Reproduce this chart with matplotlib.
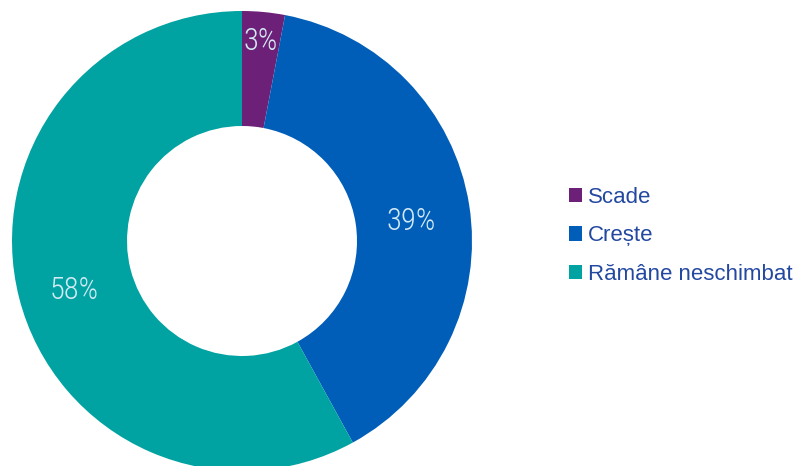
import matplotlib.pyplot as plt
import numpy as np

labels = ["Scade", "Crește", "Rămâne neschimbat"]
values = [3, 39, 58]
colors = ["#6d2077", "#005eb8", "#00a3a1"]

# label placement: radius (fraction of outer radius) and angular nudge in degrees
label_radius = [0.87, 0.74, 0.76]
label_nudge = [0.0, -2.3, 2.2]

fig = plt.figure(figsize=(7.97, 4.66), dpi=100)
ax = fig.add_axes([12 / 797, -5 / 466, 460 / 797, 460 / 466])

wedges, _ = ax.pie(values, colors=colors, startangle=90, counterclock=False,
                   radius=1, wedgeprops=dict(width=0.5, linewidth=0))
ax.set_xlim(-1, 1)
ax.set_ylim(-1, 1)
ax.set_aspect("equal")

total = sum(values)
start = 90.0
for v, r, d in zip(values, label_radius, label_nudge):
    mid = np.deg2rad(start - v / total * 360 / 2 + d)
    ax.text(r * np.cos(mid), r * np.sin(mid), f"{v}%", ha="center", va="center",
            fontsize=22, color="#d3eaf4", family=["Roboto Condensed", "Roboto"],
            fontweight="light")
    start -= v / total * 360

leg = fig.legend(wedges, labels, loc="center left", bbox_to_anchor=(0.689, 0.494),
                 frameon=False, handlelength=0.6, handleheight=0.6,
                 handletextpad=0.25, labelspacing=0.8, labelcolor="#2248a0",
                 prop=dict(family="Liberation Sans", size=16))
plt.savefig("out.png", dpi=100)
